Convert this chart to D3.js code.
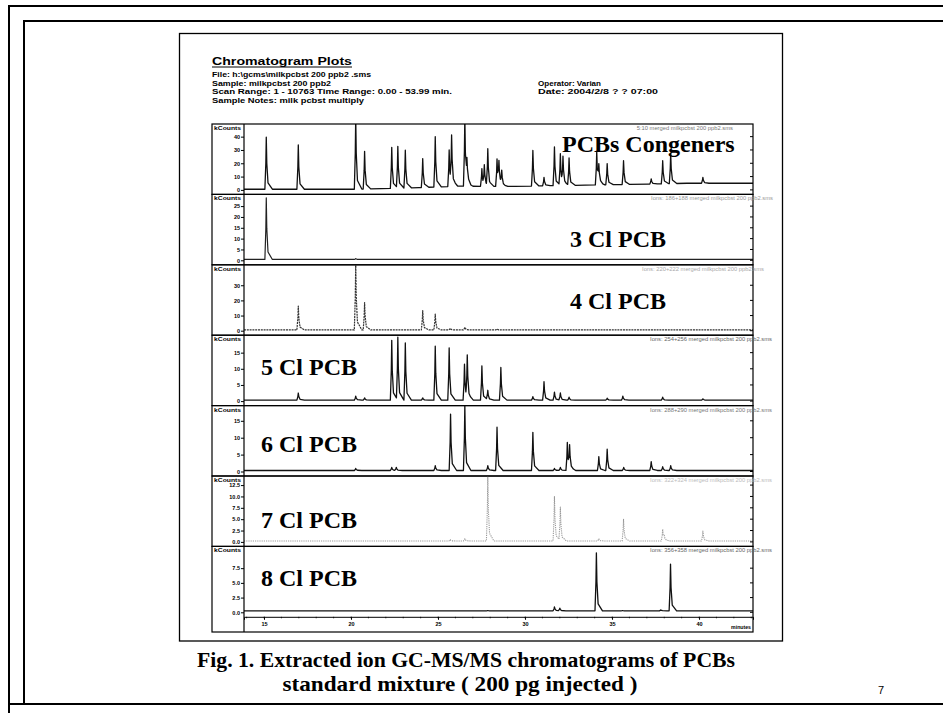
<!DOCTYPE html>
<html>
<head>
<meta charset="utf-8">
<script src="https://cdn.jsdelivr.net/npm/d3@7"></script>
<style>
  html, body { margin: 0; padding: 0; background: #fff; }
  svg { display: block; }
</style>
</head>
<body>
<svg id="chart" width="943" height="713"></svg>
<script>
// ---------- data ----------
const panelTitles = ["PCBs Congeners", "3 Cl PCB", "4 Cl PCB", "5 Cl PCB", "6 Cl PCB", "7 Cl PCB", "8 Cl PCB"];
const ionNotes = [
  "5:10 merged milkpcbst 200 ppb2.sms",
  "Ions: 186+188 merged milkpcbst 200 ppb2.sms",
  "Ions: 220+222 merged milkpcbst 200 ppb2.sms",
  "Ions: 254+256 merged milkpcbst 200 ppb2.sms",
  "Ions: 288+290 merged milkpcbst 200 ppb2.sms",
  "Ions: 322+324 merged milkpcbst 200 ppb2.sms",
  "Ions: 356+358 merged milkpcbst 200 ppb2.sms"
];
const headerLines = [
  "File: h:\\gcms\\milkpcbst 200 ppb2 .sms",
  "Sample: milkpcbst 200 ppb2",
  "Scan Range: 1 - 10763 Time Range: 0.00 - 53.99 min.",
  "Sample Notes: milk pcbst multiply"
];
const headerRight = ["Operator: Varian", "Date: 2004/2/8 ? ?  07:00"];
const captionLines = [
  "Fig. 1. Extracted ion GC-MS/MS chromatograms of PCBs",
  "standard mixture ( 200 pg injected )"
];

// retention time axis (minutes)
const timeDomain = [13.85, 43.1];
const timeTicks = [15, 20, 25, 30, 35, 40];

// intensity axes (kCounts)
const yTicks = [
  [0, 10, 20, 30, 40],
  [0, 5, 10, 15, 20, 25],
  [0, 10, 20, 30],
  [0, 5, 10, 15],
  [0, 5, 10, 15],
  [0, 2.5, 5, 7.5, 10, 12.5],
  [0, 2.5, 5, 7.5]
];
const yTops = [49.5, 30.4, 43.5, 20.4, 19.5, 14.5, 11.2];

// peaks: [retention time (min), apex intensity (kCounts)]
const congenerPeaks = [
  [15.13, 39.6], [16.97, 33.8], [20.27, 55.0], [20.78, 29.0], [22.34, 32.0],
  [22.69, 32.7], [23.12, 29.8], [24.12, 23.5], [24.84, 40.0], [25.64, 30.0],
  [25.78, 38.5], [26.54, 55.0], [26.66, 18.7], [27.52, 16.0], [27.66, 17.7],
  [27.86, 29.8], [28.39, 23.3], [28.50, 19.8], [28.66, 12.5], [30.45, 29.6],
  [31.09, 9.4], [31.69, 32.3], [32.03, 27.0], [32.18, 23.0], [32.53, 24.0],
  [34.12, 29.0], [34.24, 17.0], [34.72, 19.8], [35.66, 21.9], [37.25, 8.3],
  [37.91, 21.9], [38.37, 27.5], [40.22, 9.4]
];
const triPeaks = [[15.13, 28.8], [20.27, 0.8]];
const tetraPeaks = [
  [16.97, 16.3], [20.27, 44.0], [20.78, 18.6], [24.12, 13.3], [24.84, 11.0],
  [25.70, 1.6], [26.54, 2.3], [28.39, 1.2], [30.45, 0.6], [32.53, 0.5]
];
const pentaPeaks = [
  [16.97, 2.5], [20.27, 1.5], [20.78, 1.0], [22.34, 18.8], [22.69, 19.8],
  [23.12, 18.0], [24.12, 1.0], [24.84, 17.0], [25.64, 16.5], [26.52, 11.4],
  [26.68, 13.3], [27.52, 10.9], [27.86, 3.3], [28.61, 10.4], [30.45, 1.4],
  [31.09, 6.0], [31.69, 2.8], [32.03, 2.5], [32.53, 1.2], [34.72, 0.9],
  [35.62, 1.5], [37.91, 1.2], [40.22, 0.7]
];
const hexaPeaks = [
  [20.27, 0.9], [22.34, 1.2], [22.60, 1.2], [24.84, 1.7], [25.72, 17.0],
  [26.54, 19.6], [27.86, 1.7], [28.39, 13.1], [30.45, 11.6], [31.69, 0.9],
  [32.03, 1.2], [32.43, 8.6], [32.56, 7.1], [34.24, 4.4], [34.72, 6.6],
  [35.67, 1.2], [37.25, 2.9], [37.91, 1.4], [38.37, 1.7]
];
const heptaPeaks = [
  [25.70, 0.5], [26.54, 0.7], [27.86, 14.4], [31.69, 10.0], [32.03, 7.6],
  [34.24, 0.7], [35.66, 5.0], [37.91, 2.8], [38.00, 1.0], [40.22, 2.4]
];
const octaPeaks = [
  [27.86, 0.3], [31.69, 0.9], [32.00, 0.7], [34.10, 10.1], [35.60, 0.3],
  [37.80, 0.4], [38.36, 8.2]
];

// baseline level along the run: [time, kCounts]
const congenerBase = [[13.85, 0.5], [20.2, 0.5], [21.75, 1.0], [23.9, 1.7], [26.1, 2.8],
  [29.4, 2.6], [31.6, 3.2], [34.9, 3.9], [37.1, 4.3], [39.3, 5.0], [43.1, 5.0]];
const triBase = [[13.85, 0.4], [43.1, 0.4]];
const tetraBase = [[13.85, 0.5], [43.1, 0.5]];
const pentaBase = [[13.85, 0.3], [43.1, 0.3]];
const hexaBase = [[13.85, 0.3], [43.1, 0.3]];
const heptaBase = [[13.85, 0.2], [43.1, 0.2]];
const octaBase = [[13.85, 0.25], [43.1, 0.25]];

const panelPeaks = [congenerPeaks, triPeaks, tetraPeaks, pentaPeaks, hexaPeaks, heptaPeaks, octaPeaks];
const panelBase = [congenerBase, triBase, tetraBase, pentaBase, hexaBase, heptaBase, octaBase];

// ---------- layout ----------
const frameL = 212, plotL = 244, plotR = 753;
const top0 = 124, panelH = 70.4, zeroInset = 4.5, axisBottom = 632;
const traceStyle = [
  { stroke: "#111", width: 1.3, dash: null },
  { stroke: "#222", width: 1.2, dash: null },
  { stroke: "#333", width: 1.2, dash: "2,0.8" },
  { stroke: "#111", width: 1.3, dash: null },
  { stroke: "#111", width: 1.3, dash: null },
  { stroke: "#999", width: 1.1, dash: "1.2,1" },
  { stroke: "#111", width: 1.3, dash: null }
];
const titlePos = [[562, 152], [570, 247], [570, 309], [261, 375], [261, 452], [261, 528], [261, 586]];
const noteEnd = [733, 773, 764, 772, 772, 772, 772];
const noteColor = ["#777", "#999", "#aaa", "#666", "#777", "#bbb", "#666"];
const sans = "'Liberation Sans', Arial, sans-serif";
const serif = "'Liberation Serif', 'Times New Roman', serif";

const svg = d3.select("#chart");
svg.append("rect").attr("width", 943).attr("height", 713).attr("fill", "#fff");

// slide frames
svg.append("path").attr("d", "M9,713 V6 H943").attr("fill", "none").attr("stroke", "#000").attr("stroke-width", 2);
svg.append("path").attr("d", "M24,704 V21 H943").attr("fill", "none").attr("stroke", "#000").attr("stroke-width", 2);
svg.append("line").attr("x1", 9).attr("x2", 943).attr("y1", 704).attr("y2", 704)
  .attr("stroke", "#000").attr("stroke-width", 2);

// printed page
svg.append("rect").attr("x", 179.5).attr("y", 33.5).attr("width", 603).attr("height", 607.5)
  .attr("fill", "#fff").attr("stroke", "#000").attr("stroke-width", 1.3);

// page header
const head = svg.append("g").attr("font-family", sans).attr("font-weight", "bold").attr("fill", "#000");
head.append("text").attr("x", 212).attr("y", 65).attr("font-size", 10)
  .attr("textLength", 140).attr("lengthAdjust", "spacingAndGlyphs").text("Chromatogram Plots");
head.append("line").attr("x1", 212).attr("x2", 352).attr("y1", 67).attr("y2", 67)
  .attr("stroke", "#000").attr("stroke-width", 1);
const headerWidths = [159, 119, 240, 152];
const headerY = [77, 85.5, 94, 102.5];
headerLines.forEach((t, i) => {
  head.append("text").attr("x", 212).attr("y", headerY[i]).attr("font-size", 6.5)
    .attr("textLength", headerWidths[i]).attr("lengthAdjust", "spacingAndGlyphs").text(t);
});
const headerRightW = [63, 120];
headerRight.forEach((t, i) => {
  head.append("text").attr("x", 538).attr("y", headerY[i + 1]).attr("font-size", 6.5)
    .attr("textLength", headerRightW[i]).attr("lengthAdjust", "spacingAndGlyphs").text(t);
});

// shared time scale
const x = d3.scaleLinear().domain(timeDomain).range([plotL, plotR]);

// peak profile: offsets in minutes -> fraction of apex height (sharp front, tailing back)
const shapeT = [-0.08, -0.025, 0, 0.03, 0.1, 0.35];
const shapeV = [0, 0.5, 1, 0.5, 0.12, 0];
const profile = d3.scaleLinear().domain(shapeT).range(shapeV).clamp(true);

function traceFor(peaks, base) {
  const baseline = d3.scaleLinear().domain(base.map(d => d[0])).range(base.map(d => d[1])).clamp(true);
  const times = new Set([timeDomain[0], timeDomain[1]]);
  base.forEach(d => times.add(d[0]));
  peaks.forEach(([rt]) => shapeT.forEach(o => times.add(+(rt + o).toFixed(4))));
  const ts = Array.from(times).filter(t => t >= timeDomain[0] && t <= timeDomain[1]).sort((a, b) => a - b);
  return ts.map(t => {
    let v = baseline(t);
    peaks.forEach(([rt, h]) => {
      const amp = Math.max(0, h - baseline(rt));
      v += amp * profile(t - rt);
    });
    return [t, v];
  });
}

const defs = svg.append("defs");

panelTitles.forEach((title, i) => {
  const top = top0 + i * panelH;
  const bottom = top + panelH;
  const y = d3.scaleLinear().domain([0, yTops[i]]).range([bottom - zeroInset, top]);
  const g = svg.append("g");

  defs.append("clipPath").attr("id", "clip" + i)
    .append("rect").attr("x", plotL).attr("y", top).attr("width", plotR - plotL).attr("height", panelH);

  // chromatogram trace
  const st = traceStyle[i];
  const line = d3.line().x(d => x(d[0])).y(d => y(d[1]));
  g.append("path")
    .attr("clip-path", "url(#clip" + i + ")")
    .attr("d", line(traceFor(panelPeaks[i], panelBase[i])))
    .attr("fill", "none")
    .attr("stroke", st.stroke)
    .attr("stroke-width", st.width)
    .attr("stroke-linejoin", "round")
    .attr("stroke-dasharray", st.dash);

  // frame: label box + plot box
  const frameBottom = (i === panelTitles.length - 1) ? axisBottom : bottom;
  g.append("rect").attr("x", frameL).attr("y", top).attr("width", plotR - frameL).attr("height", frameBottom - top)
    .attr("fill", "none").attr("stroke", "#000").attr("stroke-width", 1.2);
  g.append("line").attr("x1", plotL).attr("x2", plotL).attr("y1", top).attr("y2", frameBottom)
    .attr("stroke", "#000").attr("stroke-width", 1.2);

  // intensity axis
  const fmt = (i >= 5) ? d3.format(".1f") : d3.format("d");
  const ax = g.append("g").attr("transform", `translate(${plotL},0)`)
    .call(d3.axisLeft(y).tickValues(yTicks[i]).tickSize(3).tickPadding(1).tickFormat(fmt));
  ax.select(".domain").remove();
  ax.selectAll("text").attr("font-family", sans).attr("font-weight", "bold").attr("font-size", 5.5).attr("fill", "#000");
  ax.selectAll("line").attr("stroke", "#000").attr("stroke-width", 1);

  // right-edge tick marks
  g.selectAll(".rtick").data(yTicks[i]).enter().append("line")
    .attr("x1", plotR - 3).attr("x2", plotR).attr("y1", d => y(d)).attr("y2", d => y(d))
    .attr("stroke", "#000").attr("stroke-width", 1);

  // unit label
  g.append("text").attr("x", frameL + 2).attr("y", top + 6).attr("font-family", sans)
    .attr("font-weight", "bold").attr("font-size", 5.2).attr("textLength", 27)
    .attr("lengthAdjust", "spacingAndGlyphs").text("kCounts");

  // ion note
  g.append("text").attr("x", noteEnd[i]).attr("y", top + 6).attr("text-anchor", "end")
    .attr("font-family", sans).attr("font-size", 5.8).attr("fill", noteColor[i]).text(ionNotes[i]);

  // panel title
  g.append("text").attr("x", titlePos[i][0]).attr("y", titlePos[i][1])
    .attr("font-family", serif).attr("font-weight", "bold").attr("font-size", 24).attr("fill", "#000")
    .text(title);

  // time axis under the last panel
  if (i === panelTitles.length - 1) {
    const xa = svg.append("g").attr("transform", `translate(0,${bottom})`)
      .call(d3.axisBottom(x).tickValues(timeTicks).tickSize(3).tickPadding(2).tickFormat(d3.format("d")));
    xa.select(".domain").attr("stroke", "#000").attr("stroke-width", 1);
    xa.selectAll("line").attr("stroke", "#000");
    xa.selectAll("text").attr("font-family", sans).attr("font-weight", "bold").attr("font-size", 5.5).attr("fill", "#000");
    const minor = d3.range(14, 44, 1).filter(t => t >= timeDomain[0] && t <= timeDomain[1]);
    svg.append("g").selectAll("line").data(minor).enter().append("line")
      .attr("x1", d => x(d)).attr("x2", d => x(d)).attr("y1", bottom).attr("y2", bottom + 1.5)
      .attr("stroke", "#000").attr("stroke-width", 0.8);
    svg.append("text").attr("x", plotR - 2).attr("y", axisBottom - 3).attr("text-anchor", "end")
      .attr("font-family", sans).attr("font-weight", "bold").attr("font-size", 5.2).text("minutes");
  }
});

// figure caption
const cap = svg.append("g").attr("font-family", serif).attr("font-weight", "bold").attr("fill", "#000");
cap.append("text").attr("x", 466).attr("y", 667).attr("text-anchor", "middle").attr("font-size", 21.5)
  .attr("textLength", 538).attr("lengthAdjust", "spacingAndGlyphs").text(captionLines[0]);
cap.append("text").attr("x", 460).attr("y", 691).attr("text-anchor", "middle").attr("font-size", 21.5)
  .attr("textLength", 355).attr("lengthAdjust", "spacingAndGlyphs").text(captionLines[1]);

// slide number
svg.append("text").attr("x", 878).attr("y", 694).attr("font-family", sans).attr("font-size", 11).text("7");
</script>
</body>
</html>
